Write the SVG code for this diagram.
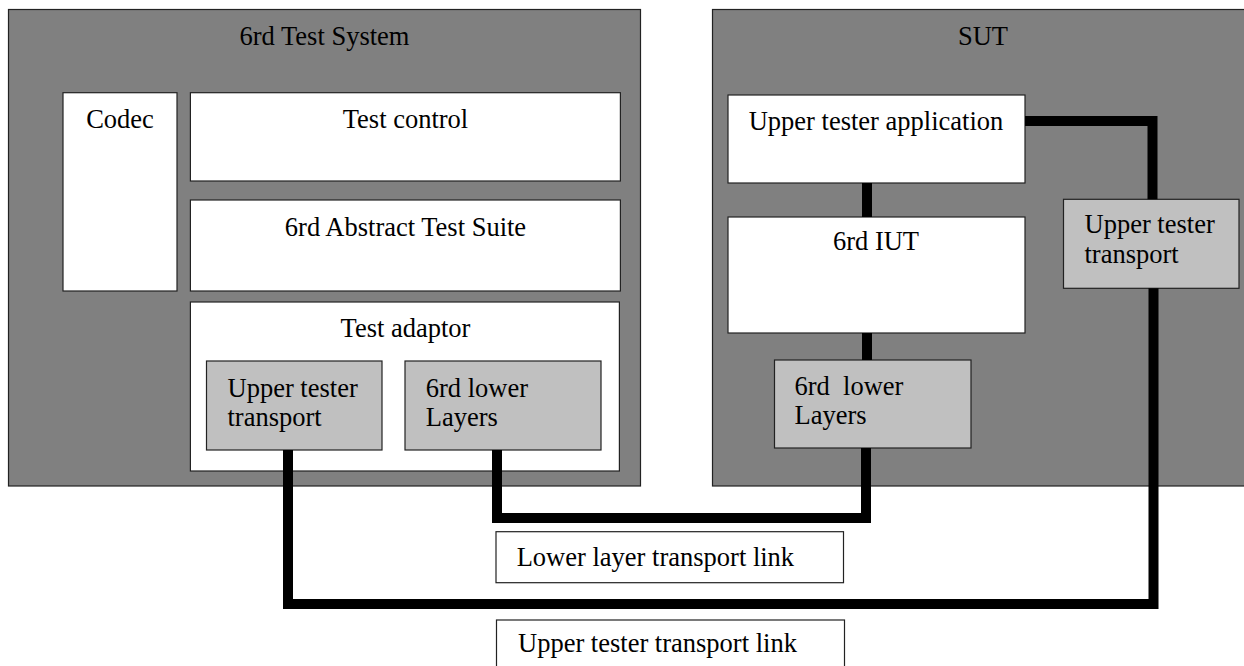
<svg xmlns="http://www.w3.org/2000/svg" width="1244" height="666" viewBox="0 0 1244 666">
<style>
.outer{fill:#808080;stroke:#222;stroke-width:1.2}
.white{fill:#ffffff;stroke:#222;stroke-width:1.2}
.grey{fill:#c0c0c0;stroke:#222;stroke-width:1.2}
.t{font-family:"Liberation Serif","Times New Roman",serif;font-size:26.5px;fill:#000}
.c{text-anchor:middle}
.conn{fill:none;stroke:#000;stroke-width:10;stroke-linejoin:miter;stroke-linecap:butt}
</style>
<rect x="0" y="0" width="1244" height="666" fill="#ffffff"/>
<g id="test-system">
<rect class="outer" x="8.5" y="9.5" width="632" height="476.5"/>
<text class="t c" x="324.5" y="44.5">6rd Test System</text>
</g>
<g id="sut">
<rect class="outer" x="712.5" y="9.5" width="545" height="476.5"/>
<text class="t c" x="983" y="44.5">SUT</text>
</g>
<g id="codec">
<rect class="white" x="63" y="92.7" width="114" height="198.3"/>
<text class="t c" x="120" y="128">Codec</text>
</g>
<g id="test-control">
<rect class="white" x="190.4" y="92.7" width="430" height="88.3"/>
<text class="t c" x="405.5" y="128">Test control</text>
</g>
<g id="abstract-test-suite">
<rect class="white" x="190.4" y="200" width="430" height="91"/>
<text class="t c" x="405.5" y="235.5">6rd Abstract Test Suite</text>
</g>
<g id="test-adaptor">
<rect class="white" x="190.4" y="302" width="429" height="169"/>
<text class="t c" x="405.5" y="336.5">Test adaptor</text>
</g>
<g id="ts-upper-tester-transport">
<rect class="grey" x="206.5" y="361" width="175.5" height="89"/>
<text class="t" x="227.5" y="396.5">Upper tester</text>
<text class="t" x="227.5" y="426">transport</text>
</g>
<g id="ts-lower-layers">
<rect class="grey" x="405" y="361" width="196" height="89"/>
<text class="t" x="425.8" y="396.5">6rd lower</text>
<text class="t" x="425.8" y="426">Layers</text>
</g>
<g id="upper-tester-application">
<rect class="white" x="728" y="95" width="297" height="88"/>
<text class="t c" x="876" y="129.5">Upper tester application</text>
</g>
<g id="iut">
<rect class="white" x="728" y="217" width="297" height="116"/>
<text class="t c" x="876" y="250">6rd IUT</text>
</g>
<g id="sut-lower-layers">
<rect class="grey" x="774.5" y="360" width="196.5" height="88"/>
<text class="t" x="794.5" y="395" xml:space="preserve">6rd  lower</text>
<text class="t" x="794.5" y="424">Layers</text>
</g>
<g id="sut-upper-tester-transport">
<rect class="grey" x="1063.5" y="199.3" width="175.5" height="89"/>
<text class="t" x="1084.5" y="233">Upper tester</text>
<text class="t" x="1084.5" y="263">transport</text>
</g>
<g id="connectors">
<line class="conn" x1="867" y1="183" x2="867" y2="217"/>
<line class="conn" x1="867" y1="333" x2="867" y2="360"/>
<polyline class="conn" points="1025,121 1152.5,121 1152.5,199.3"/>
<polyline class="conn" points="1153.5,288.3 1153.5,604 288,604 288,450"/>
<polyline class="conn" points="497,450 497,518 866,518 866,448"/>
</g>
<g id="lower-link-label">
<rect class="white" x="496" y="531.7" width="347.5" height="51"/>
<text class="t" x="516.7" y="565.7">Lower layer transport link</text>
</g>
<g id="upper-link-label">
<rect class="white" x="496.5" y="620" width="348" height="60"/>
<text class="t" x="518" y="652">Upper tester transport link</text>
</g>
</svg>
